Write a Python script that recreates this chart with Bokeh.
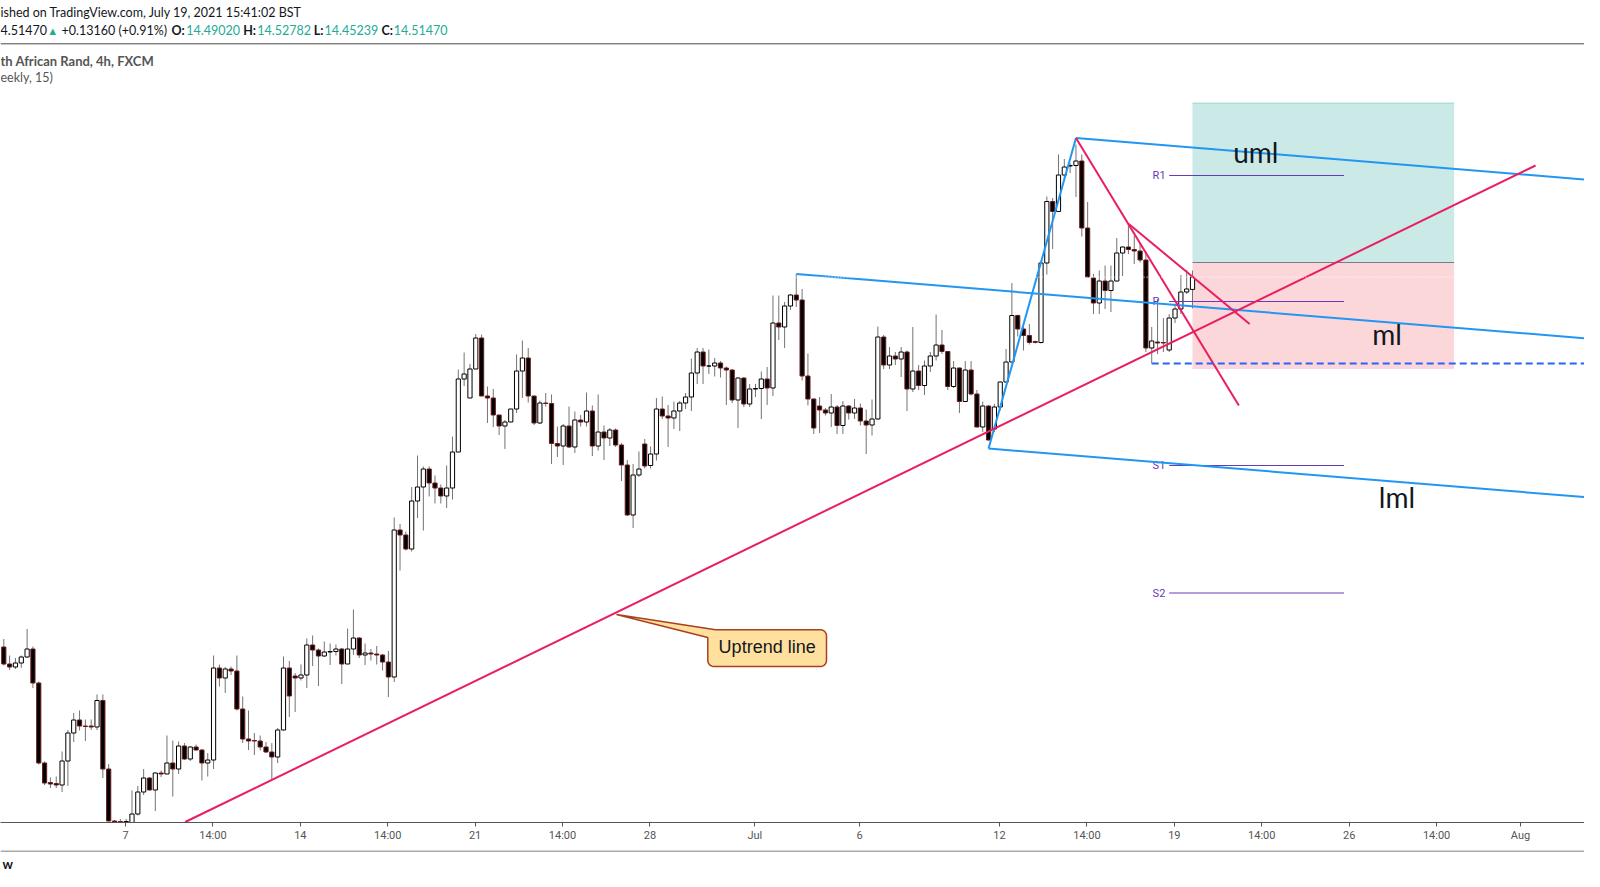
import numpy as np
from bokeh.plotting import figure
from bokeh.layouts import column
from bokeh.models import Range1d, LinearAxis, FixedTicker, ColumnDataSource
from bokeh.core.properties import value
from bokeh.embed import file_html
from bokeh.resources import INLINE

# ---------------- data: USD/ZAR 4h candles (bar index 0..204) ----------------
opens = [13.775, 13.741, 13.735, 13.743, 13.755, 13.771, 13.703, 13.543, 13.504, 13.502,
         13.499, 13.547, 13.603, 13.629, 13.617, 13.617, 13.615, 13.668, 13.531, 13.427,
         13.426, 13.425, 13.424, 13.441, 13.485, 13.513, 13.489, 13.523, 13.521, 13.543,
         13.531, 13.577, 13.551, 13.575, 13.569, 13.543, 13.549, 13.733, 13.713, 13.731,
         13.727, 13.651, 13.591, 13.588, 13.587, 13.575, 13.565, 13.555, 13.609, 13.733,
         13.717, 13.713, 13.719, 13.779, 13.769, 13.757, 13.765, 13.766, 13.771, 13.741,
         13.771, 13.793, 13.759, 13.763, 13.761, 13.759, 13.745, 13.715, 14.009, 13.999,
         13.971, 14.067, 14.095, 14.131, 14.103, 14.093, 14.077, 14.093, 14.165, 14.311,
         14.273, 14.331, 14.393, 14.277, 14.273, 14.239, 14.217, 14.225, 14.251, 14.327,
         14.353, 14.277, 14.223, 14.263, 14.262, 14.182, 14.177, 14.217, 14.175, 14.229,
         14.225, 14.247, 14.177, 14.205, 14.193, 14.209, 14.179, 14.139, 14.039, 14.119,
         14.181, 14.138, 14.161, 14.251, 14.237, 14.233, 14.247, 14.263, 14.275, 14.323,
         14.365, 14.337, 14.337, 14.343, 14.333, 14.329, 14.269, 14.313, 14.261, 14.291,
         14.292, 14.311, 14.293, 14.423, 14.415, 14.457, 14.479, 14.469, 14.317, 14.271,
         14.257, 14.249, 14.243, 14.255, 14.218, 14.257, 14.243, 14.253, 14.227, 14.219,
         14.231, 14.395, 14.339, 14.357, 14.351, 14.365, 14.291, 14.327, 14.298, 14.337,
         14.357, 14.379, 14.366, 14.296, 14.333, 14.266, 14.329, 14.281, 14.215, 14.257,
         14.211, 14.255, 14.305, 14.345, 14.438, 14.411, 14.398, 14.386, 14.384, 14.543,
         14.666, 14.646, 14.719, 14.737, 14.738, 14.747, 14.613, 14.513, 14.463, 14.507,
         14.488, 14.507, 14.563, 14.575, 14.570, 14.567, 14.549, 14.373, 14.385, 14.384,
         14.369, 14.433, 14.451, 14.485, 14.4902]
highs = [13.791, 13.758, 13.753, 13.758, 13.811, 13.776, 13.706, 13.546, 13.514, 13.516,
         13.566, 13.609, 13.643, 13.648, 13.630, 13.630, 13.680, 13.680, 13.541, 13.429,
         13.431, 13.431, 13.488, 13.497, 13.531, 13.515, 13.524, 13.528, 13.598, 13.588,
         13.586, 13.583, 13.577, 13.580, 13.571, 13.563, 13.758, 13.740, 13.735, 13.736,
         13.758, 13.676, 13.648, 13.603, 13.598, 13.585, 13.583, 13.613, 13.756, 13.747,
         13.723, 13.740, 13.792, 13.798, 13.772, 13.786, 13.782, 13.780, 13.773, 13.812,
         13.850, 13.795, 13.782, 13.771, 13.777, 13.761, 13.767, 14.034, 14.021, 14.006,
         14.095, 14.158, 14.136, 14.136, 14.118, 14.100, 14.138, 14.196, 14.330, 14.364,
         14.341, 14.401, 14.400, 14.296, 14.291, 14.239, 14.229, 14.251, 14.360, 14.388,
         14.373, 14.277, 14.268, 14.283, 14.280, 14.216, 14.221, 14.256, 14.246, 14.239,
         14.284, 14.258, 14.280, 14.218, 14.213, 14.212, 14.183, 14.149, 14.141, 14.166,
         14.191, 14.176, 14.273, 14.276, 14.259, 14.266, 14.267, 14.283, 14.352, 14.373,
         14.373, 14.370, 14.353, 14.347, 14.336, 14.331, 14.314, 14.314, 14.301, 14.301,
         14.326, 14.335, 14.478, 14.478, 14.465, 14.481, 14.521, 14.491, 14.362, 14.272,
         14.275, 14.253, 14.281, 14.259, 14.267, 14.259, 14.271, 14.262, 14.250, 14.270,
         14.416, 14.399, 14.375, 14.365, 14.375, 14.368, 14.415, 14.339, 14.348, 14.365,
         14.440, 14.409, 14.367, 14.347, 14.334, 14.347, 14.347, 14.289, 14.266, 14.259,
         14.261, 14.306, 14.371, 14.503, 14.440, 14.423, 14.421, 14.388, 14.545, 14.676,
         14.673, 14.760, 14.751, 14.743, 14.780, 14.760, 14.665, 14.521, 14.528, 14.538,
         14.538, 14.593, 14.576, 14.621, 14.598, 14.581, 14.565, 14.415, 14.471, 14.433,
         14.441, 14.460, 14.519, 14.529, 14.52782]
lows = [13.738, 13.729, 13.731, 13.733, 13.753, 13.693, 13.540, 13.499, 13.493, 13.493,
        13.485, 13.497, 13.585, 13.608, 13.587, 13.609, 13.609, 13.513, 13.426, 13.424,
        13.423, 13.423, 13.423, 13.438, 13.479, 13.488, 13.447, 13.515, 13.521, 13.476,
        13.521, 13.549, 13.547, 13.568, 13.508, 13.516, 13.531, 13.696, 13.683, 13.719,
        13.648, 13.583, 13.569, 13.559, 13.568, 13.563, 13.509, 13.543, 13.608, 13.635,
        13.645, 13.708, 13.693, 13.737, 13.697, 13.755, 13.739, 13.758, 13.701, 13.741,
        13.759, 13.753, 13.739, 13.748, 13.740, 13.728, 13.675, 13.705, 13.928, 13.968,
        13.966, 14.033, 14.008, 14.076, 14.062, 14.062, 14.053, 14.070, 14.165, 14.297,
        14.273, 14.331, 14.277, 14.223, 14.215, 14.199, 14.171, 14.225, 14.243, 14.273,
        14.264, 14.219, 14.221, 14.256, 14.141, 14.155, 14.139, 14.173, 14.163, 14.216,
        14.216, 14.157, 14.168, 14.149, 14.177, 14.175, 14.107, 14.037, 14.013, 14.115,
        14.132, 14.132, 14.148, 14.231, 14.175, 14.211, 14.207, 14.251, 14.247, 14.301,
        14.301, 14.321, 14.316, 14.314, 14.259, 14.263, 14.213, 14.255, 14.255, 14.275,
        14.231, 14.259, 14.277, 14.389, 14.373, 14.449, 14.455, 14.308, 14.258, 14.201,
        14.203, 14.238, 14.215, 14.201, 14.201, 14.230, 14.231, 14.218, 14.161, 14.198,
        14.230, 14.331, 14.331, 14.339, 14.315, 14.247, 14.285, 14.289, 14.279, 14.325,
        14.348, 14.361, 14.289, 14.293, 14.243, 14.265, 14.278, 14.214, 14.205, 14.188,
        14.205, 14.248, 14.304, 14.344, 14.396, 14.368, 14.380, 14.382, 14.382, 14.520,
        14.571, 14.645, 14.708, 14.723, 14.675, 14.596, 14.514, 14.441, 14.441, 14.451,
        14.445, 14.506, 14.517, 14.561, 14.541, 14.544, 14.365, 14.342, 14.361, 14.365,
        14.365, 14.423, 14.441, 14.481, 14.45239]
closes = [13.741, 13.735, 13.743, 13.755, 13.771, 13.703, 13.543, 13.503, 13.501, 13.499,
          13.547, 13.603, 13.629, 13.617, 13.616, 13.615, 13.668, 13.531, 13.427, 13.425,
          13.425, 13.426, 13.441, 13.485, 13.513, 13.489, 13.523, 13.521, 13.543, 13.531,
          13.577, 13.551, 13.575, 13.569, 13.543, 13.549, 13.733, 13.713, 13.731, 13.727,
          13.651, 13.591, 13.587, 13.587, 13.575, 13.565, 13.555, 13.609, 13.733, 13.677,
          13.713, 13.719, 13.779, 13.769, 13.757, 13.765, 13.766, 13.771, 13.741, 13.771,
          13.793, 13.759, 13.763, 13.761, 13.759, 13.745, 13.715, 14.009, 13.999, 13.971,
          14.067, 14.095, 14.131, 14.103, 14.093, 14.077, 14.093, 14.165, 14.311, 14.321,
          14.331, 14.393, 14.277, 14.273, 14.239, 14.217, 14.225, 14.251, 14.327, 14.353,
          14.277, 14.223, 14.263, 14.262, 14.182, 14.177, 14.217, 14.175, 14.229, 14.225,
          14.247, 14.177, 14.205, 14.193, 14.209, 14.179, 14.139, 14.039, 14.119, 14.131,
          14.137, 14.161, 14.251, 14.237, 14.233, 14.247, 14.263, 14.275, 14.323, 14.365,
          14.337, 14.337, 14.343, 14.333, 14.329, 14.269, 14.313, 14.261, 14.291, 14.292,
          14.311, 14.293, 14.423, 14.415, 14.457, 14.479, 14.469, 14.317, 14.271, 14.213,
          14.249, 14.243, 14.255, 14.218, 14.257, 14.243, 14.253, 14.227, 14.219, 14.231,
          14.395, 14.339, 14.357, 14.351, 14.365, 14.291, 14.327, 14.298, 14.337, 14.357,
          14.379, 14.366, 14.296, 14.333, 14.266, 14.329, 14.281, 14.215, 14.257, 14.189,
          14.255, 14.305, 14.345, 14.438, 14.411, 14.398, 14.384, 14.384, 14.543, 14.666,
          14.646, 14.719, 14.735, 14.738, 14.747, 14.613, 14.515, 14.463, 14.507, 14.488,
          14.507, 14.563, 14.575, 14.570, 14.567, 14.549, 14.373, 14.387, 14.383, 14.383,
          14.433, 14.451, 14.485, 14.491, 14.5147]

# ---------------- time axis (trading days, 6 bars per day) ----------------
tick_days = [0, 2.5, 5, 7.5, 10, 12.5, 15, 18, 21, 25, 27.5, 30, 32.5, 35, 37.5, 39.9]
tick_labels = ["7", "14:00", "14", "14:00", "21", "14:00", "28", "Jul", "6", "12",
               "14:00", "19", "14:00", "26", "14:00", "Aug"]
BARS_PER_DAY = 6
jun7_bar = 20.885

# ---------------- drawings (bar index, price) ----------------
pf_p1 = (136, 14.521)
pf_p2 = (169, 14.172)
pf_p3 = (184, 14.793)
uptrend = [(31.13, 13.425), (262.87, 14.738)]
fall_line = [(184, 14.793), (211.95, 14.258)]
wedge_line = [(193.07, 14.621), (213.8, 14.421)]
pivot_names = ["R1", "P", "S1", "S2"]
pivot_levels = [14.718, 14.466, 14.138, 13.883]
pivot_span = (200, 230)
pos_start, pos_end = 204, 248.9
pos_target, pos_entry, pos_stop = 14.863, 14.544, 14.331
low_ray = (197, 14.342)
fork_labels = ["uml", "ml", "lml"]
fork_label_x = [210.98, 234.84, 235.97]
fork_label_y = [14.7654, 14.4004, 14.0742]

# ---------------- main figure ----------------
W = 1584
FRAME_H = 822
AXIS_H = 28
LOGO_H = 21
X0, X1 = -0.566, 271.27
Y0, Y1 = 13.424, 15.068

p = figure(width=W, height=FRAME_H + AXIS_H, x_range=Range1d(X0, X1), y_range=Range1d(Y0, Y1),
           x_axis_type=None, y_axis_type=None, toolbar_location=None,
           output_backend="svg", min_border_left=0, min_border_right=0,
           min_border_top=0, min_border_bottom=AXIS_H)
p.outline_line_color = None
p.background_fill_color = "white"
p.border_fill_color = "white"
p.extra_x_ranges = {"px": Range1d(0, W)}
p.extra_y_ranges = {"px": Range1d(FRAME_H, 0)}

# position tool boxes
p.quad(left=[pos_start], right=[pos_end], bottom=[pos_entry], top=[pos_target],
       fill_color="#26a69a", fill_alpha=0.24, line_color=None)
p.quad(left=[pos_start], right=[pos_end], bottom=[pos_stop], top=[pos_entry],
       fill_color="#f23645", fill_alpha=0.2, line_color=None)
p.segment(x0=[pos_start], y0=[pos_target], x1=[pos_end], y1=[pos_target],
          line_color="#26a69a", line_alpha=0.35, line_width=1)
p.segment(x0=[pos_start], y0=[pos_entry], x1=[pos_end], y1=[pos_entry],
          line_color="#787b86", line_width=1.2)

# candles
o = np.array(opens); c = np.array(closes); h = np.array(highs); l = np.array(lows)
xs = np.arange(len(o))
bull = c >= o
p.segment(x0=xs, y0=h, x1=xs, y1=l, line_color="#737373", line_width=1)
src_bull = ColumnDataSource(dict(x=xs[bull], top=c[bull], bottom=o[bull]))
src_bear = ColumnDataSource(dict(x=xs[~bull], top=o[~bull], bottom=c[~bull]))
p.vbar(x="x", top="top", bottom="bottom", width=0.72, source=src_bull,
       fill_color="white", line_color="black", line_width=1)
p.vbar(x="x", top="top", bottom="bottom", width=0.72, source=src_bear,
       fill_color="black", line_color="#6b1e1e", line_width=1)

# pivots
p.segment(x0=[pivot_span[0]] * 4, y0=pivot_levels, x1=[pivot_span[1]] * 4, y1=pivot_levels,
          line_color="#673ab7", line_width=1)
p.text(x=[pivot_span[0]] * 4, y=pivot_levels, text=pivot_names, x_offset=-16.6,
       text_align="left", text_baseline="middle", text_color="#673ab7",
       text_font=value("Roboto"), text_font_size=value("11px"))

# pitchfork
mx = (pf_p2[0] + pf_p3[0]) / 2
my = (pf_p2[1] + pf_p3[1]) / 2
slope = (my - pf_p1[1]) / (mx - pf_p1[0])
xe = X1 + 2
fork_x0 = [pf_p1[0], pf_p3[0], pf_p2[0], pf_p2[0]]
fork_y0 = [pf_p1[1], pf_p3[1], pf_p2[1], pf_p2[1]]
fork_x1 = [xe, xe, xe, pf_p3[0]]
fork_y1 = [pf_p1[1] + slope * (xe - pf_p1[0]), pf_p3[1] + slope * (xe - pf_p3[0]),
           pf_p2[1] + slope * (xe - pf_p2[0]), pf_p3[1]]
p.segment(x0=fork_x0, y0=fork_y0, x1=fork_x1, y1=fork_y1, line_color="#2196f3", line_width=2)

# red trend lines
for seg in (uptrend, fall_line, wedge_line):
    p.line(x=[seg[0][0], seg[1][0]], y=[seg[0][1], seg[1][1]], line_color="#e91e63", line_width=2)

# horizontal ray at the swing low
p.segment(x0=[low_ray[0]], y0=[low_ray[1]], x1=[xe], y1=[low_ray[1]],
          line_color="#2962ff", line_width=2, line_dash="7 4")
# last price dotted line
p.segment(x0=[X0], y0=[closes[-1]], x1=[pos_end], y1=[closes[-1]],
          line_color="white", line_width=1, line_dash="1 2")

# pitchfork labels
p.text(x=fork_label_x, y=fork_label_y, text=fork_labels, text_align="left",
       text_baseline="middle", text_color="#131722",
       text_font=value("Lato"), text_font_size=value("28px"))

# ---------------- callout (pixel space) ----------------
bx0, bx1, by0, by1, rad = 707.3, 826.0, 629.3, 666.0, 6.0
anchor = (616.0, 614.0)
def arc(cx, cy, a0, a1, n=6):
    t = np.linspace(a0, a1, n)
    return list(cx + rad * np.cos(t)), list(cy + rad * np.sin(t))
px_, py_ = [bx0, anchor[0], bx0 + 7.7], [by0 + 7.7, anchor[1], by0]
ax_, ay_ = arc(bx1 - rad, by0 + rad, -np.pi / 2, 0); px_ += ax_; py_ += ay_
ax_, ay_ = arc(bx1 - rad, by1 - rad, 0, np.pi / 2); px_ += ax_; py_ += ay_
ax_, ay_ = arc(bx0 + rad, by1 - rad, np.pi / 2, np.pi); px_ += ax_; py_ += ay_
p.patch(x=px_, y=py_, fill_color="#ffe09e", line_color="#a8401f", line_width=1.5,
        x_range_name="px", y_range_name="px")
p.text(x=[(bx0 + bx1) / 2], y=[(by0 + by1) / 2 - 1], text=["Uptrend line"],
       text_align="center", text_baseline="middle", text_color="#131722",
       text_font=value("Liberation Sans"), text_font_size=value("18px"),
       x_range_name="px", y_range_name="px")

# ---------------- header (pixel space) ----------------
def htext(x, y, s, color="#131722", style="normal", size="12.5px"):
    p.text(x=[x], y=[y], text=[s], text_align="left", text_baseline="middle",
           text_color=color, text_font_style=style, text_font=value("Lato"),
           text_font_size=value(size), x_range_name="px", y_range_name="px")

htext(0, 12.2, "ished on TradingView.com, July 19, 2021 15:41:02 BST")
teal = "#22ab94"
LINE2 = 29.5
htext(0, LINE2, "4.51470")
htext(46.7, LINE2, "\u25b2", color=teal, size="11px")
htext(61, LINE2, "+0.13160 (+0.91%)")
for lab, lx, val, vx in [("O:", 171, "14.49020", 185.7), ("H:", 242.7, "14.52782", 256.7),
                         ("L:", 313.3, "14.45239", 324), ("C:", 381, "14.51470", 393.3)]:
    htext(lx, LINE2, lab, style="bold")
    htext(vx, LINE2, val, color=teal)
p.segment(x0=[0], y0=[43.3], x1=[W], y1=[43.3], line_color="#4a4a4a", line_width=1,
          x_range_name="px", y_range_name="px")
htext(0, 60, "th African Rand, 4h, FXCM", color="#555555", style="bold", size="13px")
htext(0, 76.5, "eekly, 15)", color="#555555", size="12.5px")

# ---------------- time axis ----------------
tick_pos = [round(jun7_bar + BARS_PER_DAY * d, 3) for d in tick_days]
xaxis = LinearAxis(ticker=FixedTicker(ticks=tick_pos),
                   major_label_overrides={t: s for t, s in zip(tick_pos, tick_labels)})
xaxis.axis_line_color = "#555555"
xaxis.major_tick_line_color = "#555555"
xaxis.major_tick_out = 4
xaxis.major_tick_in = 0
xaxis.minor_tick_line_color = None
xaxis.major_label_text_font = "Roboto"
xaxis.major_label_text_font_size = "11px"
xaxis.major_label_text_color = "#555555"
xaxis.major_label_standoff = 2
p.add_layout(xaxis, "below")

# ---------------- footer strip (separator + logo text) ----------------
q = figure(width=W, height=LOGO_H, x_range=Range1d(0, W), y_range=Range1d(LOGO_H, 0),
           x_axis_type=None, y_axis_type=None, toolbar_location=None,
           output_backend="svg", min_border_left=0, min_border_right=0,
           min_border_top=0, min_border_bottom=0)
q.outline_line_color = None
q.background_fill_color = "white"
q.border_fill_color = "white"
q.segment(x0=[0], y0=[0.5], x1=[W], y1=[0.5], line_color="#555555", line_width=1)
q.text(x=[2], y=[13], text=["w"], text_align="left", text_baseline="middle",
       text_color="#131722", text_font_style="bold", text_font=value("Lato"),
       text_font_size=value("13px"))

layout = column(p, q, spacing=0)
open("out.html", "w").write(file_html(layout, INLINE))
